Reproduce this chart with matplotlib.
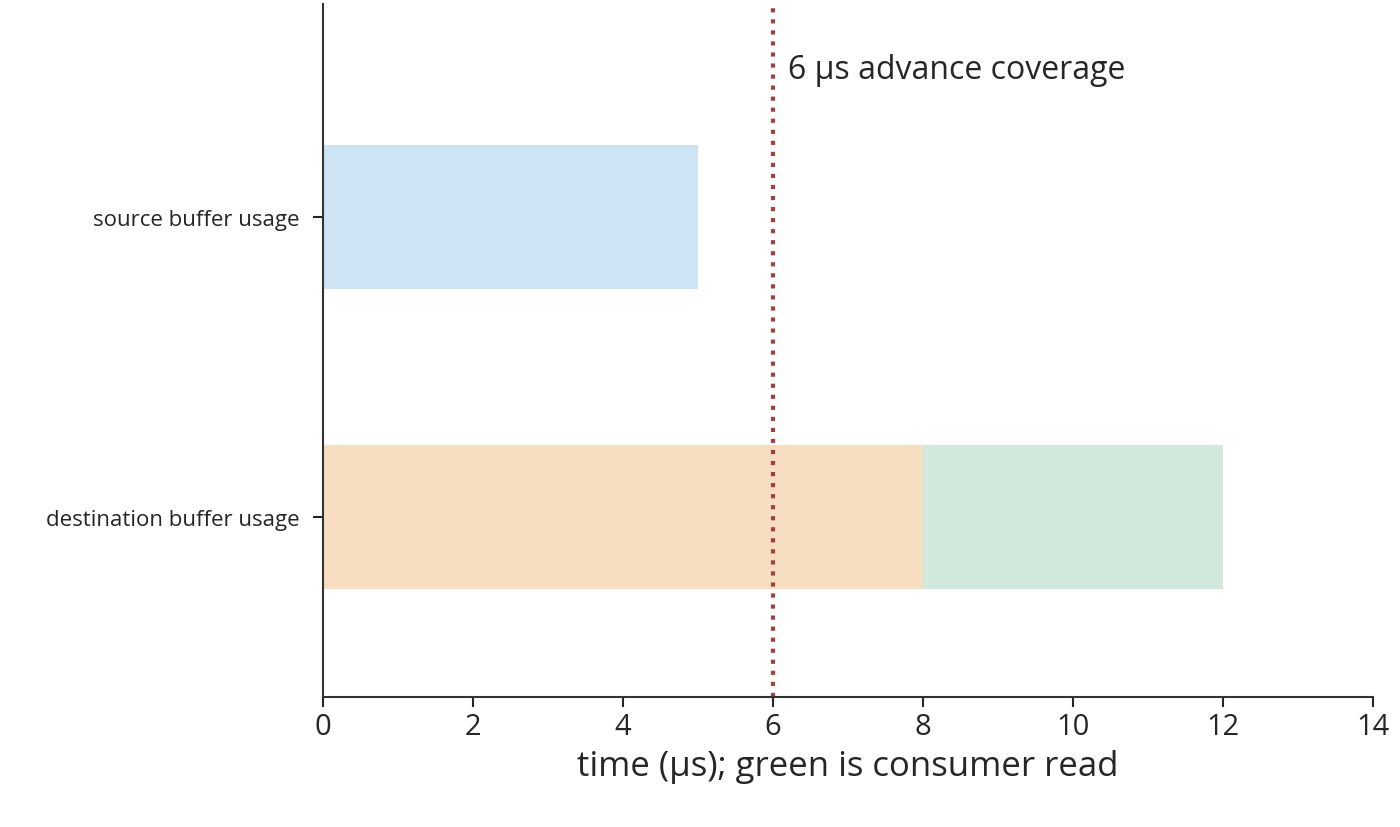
import matplotlib
matplotlib.use("Agg")
import matplotlib.pyplot as plt

plt.rcParams['font.family'] = ['Open Sans', 'DejaVu Sans']

categories = ["destination buffer usage", "source buffer usage"]
source_usage = [0, 5]
dest_write = [8, 0]
dest_read = [4, 0]
coverage = 6

fig = plt.figure(figsize=(14, 8.28), dpi=100)
ax = fig.add_axes([323/1400, 1-698/828, 1050/1400, 693/828])
y = [0, 1]
ax.barh(y[1], source_usage[1], height=0.48, color="#cce4f4", align="center")
ax.barh(y[0], dest_write[0], height=0.48, color="#f7dec0")
ax.barh(y[0], dest_read[0], left=dest_write[0], height=0.48, color="#d1e9dd")
ax.axvline(coverage, color="#a0403f", linestyle=":", linewidth=3)
ax.text(coverage + 0.2, 1.49, f"{coverage} µs advance coverage", fontsize=23, color="#262626", va="center")
ax.set_xlim(0, 14)
ax.set_ylim(-0.6, 1.71)
ax.set_yticks(y)
ax.set_yticklabels(categories, fontsize=16, color="#262626")
ax.set_xticks(range(0, 15, 2))
ax.tick_params(axis='x', labelsize=21, colors="#262626", length=7, width=1.5)
ax.tick_params(axis='y', length=7, width=1.5, colors="#262626", pad=10)
ax.set_xlabel("time (µs); green is consumer read", fontsize=25, color="#262626", labelpad=6)
for s in ["top", "right"]:
    ax.spines[s].set_visible(False)
for s in ["left", "bottom"]:
    ax.spines[s].set_linewidth(1.5)
    ax.spines[s].set_color("#333333")
fig.savefig("out.png", dpi=100)
